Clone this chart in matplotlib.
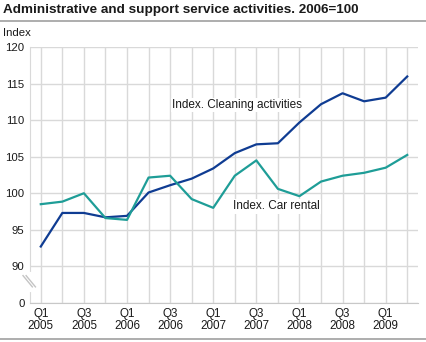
import matplotlib
matplotlib.use('Agg')
import matplotlib.pyplot as plt
from matplotlib.lines import Line2D

plt.rcParams['font.family'] = ['Liberation Sans', 'DejaVu Sans']

quarters = ['Q1\n2005', '', 'Q3\n2005', '', 'Q1\n2006', '', 'Q3\n2006', '',
            'Q1\n2007', '', 'Q3\n2007', '', 'Q1\n2008', '', 'Q3\n2008', '',
            'Q1\n2009', '']
cleaning = [92.7, 97.3, 97.3, 96.7, 96.9, 100.1, 101.1, 102.0, 103.4,
            105.5, 106.7, 106.85, 109.7, 112.2, 113.7, 112.6, 113.1, 116.0]
car_rental = [98.5, 98.85, 100.0, 96.6, 96.35, 102.15, 102.4, 99.2, 98.0,
              102.4, 104.5, 100.6, 99.6, 101.6, 102.4, 102.8, 103.5, 105.25]
ytick_values = [85, 90, 95, 100, 105, 110, 115, 120]
ytick_labels = ['0', '90', '95', '100', '105', '110', '115', '120']

blue = '#0f3c92'
teal = '#1e9d97'
grid = '#d9d9d9'
txt = '#1a1a1a'

W, H = 426, 342
fig = plt.figure(figsize=(W / 100, H / 100), dpi=100)
ax = fig.add_axes([30 / W, 1 - 302.7 / H, 388 / W, 255.4 / H])

x = list(range(len(quarters)))
ax.plot(x, cleaning, color=blue, lw=1.6, zorder=3)
ax.plot(x, car_rental, color=teal, lw=1.6, zorder=3)

ax.set_xlim(-0.5, len(quarters) - 0.5)
ax.set_ylim(85, 120)
ax.set_xticks(x)
ax.set_xticklabels(quarters, fontsize=8.4, color=txt, linespacing=0.95)
ax.set_yticks(ytick_values)
ax.set_yticklabels(ytick_labels, fontsize=8.2, color=txt)
ax.tick_params(length=0)
ax.tick_params(axis='x', pad=4)
ax.tick_params(axis='y', pad=4)
ax.grid(True, color=grid, lw=1)
ax.set_axisbelow(True)
for s in ['top', 'right']:
    ax.spines[s].set_visible(False)
ax.spines['left'].set_color(grid)
ax.spines['bottom'].set_color('#c8c8c8')

# axis break marks
ax.plot([0, 0], [0.05, 0.113], color='white', lw=3,
        transform=ax.transAxes, clip_on=False, zorder=4)
for dx in (0.0, 0.008):
    ax.add_line(Line2D([-0.018 + dx, 0.006 + dx], [0.106, 0.062],
                       color='#c4c4c4', lw=1, transform=ax.transAxes,
                       clip_on=False, zorder=5))

box = dict(facecolor='white', edgecolor='none', pad=1)
ax.text(6.1, 112.1, 'Index. Cleaning activities', fontsize=8.5, color=txt,
        va='center', bbox=box, zorder=2)
ax.text(8.9, 98.2, 'Index. Car rental', fontsize=8.5, color=txt,
        va='center', bbox=box, zorder=2)

fig.text(3 / W, 1 - 10 / H, 'Administrative and support service activities. 2006=100',
         fontsize=9.7, fontweight='bold', color=txt, va='center')
fig.text(3 / W, 1 - 33 / H, 'Index', fontsize=8.2, color=txt, va='center')
fig.add_artist(Line2D([0, 1], [1 - 20.5 / H] * 2, color='#a0a0a0', lw=1.2))
fig.add_artist(Line2D([0, 1], [1 - 339 / H] * 2, color='#a0a0a0', lw=1.2))

fig.savefig('out.png', dpi=100)
